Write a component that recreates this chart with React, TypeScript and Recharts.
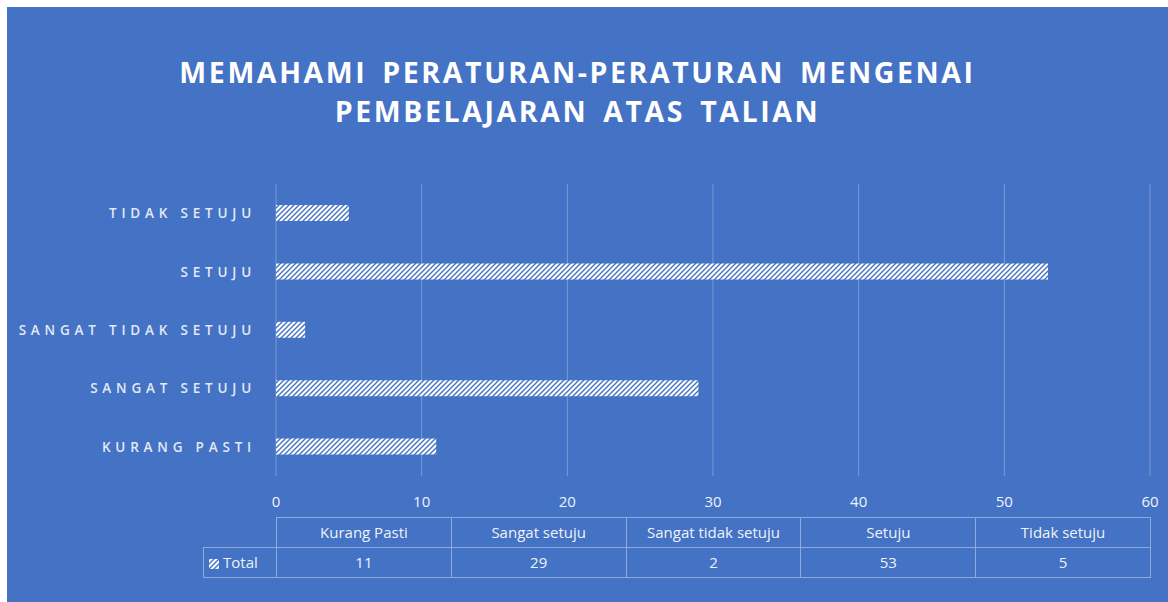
import { Bar, BarChart, CartesianGrid, XAxis, YAxis } from "recharts";

const categories = ["Kurang Pasti", "Sangat setuju", "Sangat tidak setuju", "Setuju", "Tidak setuju"];
const totals = [11, 29, 2, 53, 5];
const xTicks = [0, 10, 20, 30, 40, 50, 60];
const seriesName = "Total";

const data = categories.map((name, i) => ({ name, total: totals[i] }));

const BG = "#4472C4";
const LINE = "#8eaadb";
const FONT = "'Open Sans', sans-serif";

function CategoryTick({ x, y, payload }: any) {
	return (
		<text
			x={x}
			y={y}
			dy={5}
			textAnchor="end"
			fill="#e2e9f6"
			fontSize={13.5}
			fontWeight={600}
			fontFamily={FONT}
			letterSpacing={4.8}
		>
			{String(payload.value).toUpperCase()}
		</text>
	);
}

function Hatch({ id }: { id: string }) {
	return (
		<pattern id={id} patternUnits="userSpaceOnUse" width={5} height={5}>
			<rect width={5} height={5} fill="#ffffff" />
			<path d="M-1,1 L1,-1 M0,5 L5,0 M4,6 L6,4" stroke={BG} strokeWidth={1.4} />
		</pattern>
	);
}

function DataTable() {
	const left = 269;
	const colW = 874 / categories.length;
	const cell = {
		position: "absolute" as const,
		boxSizing: "border-box" as const,
		height: 31,
		lineHeight: "29px",
		textAlign: "center" as const,
		color: "#eef2fa",
		fontSize: 15,
		fontFamily: FONT,
		border: `1px solid ${LINE}`,
		whiteSpace: "nowrap" as const,
		overflow: "hidden"
	};
	return (
		<>
			{categories.map((c, i) => (
				<div key={c} style={{ ...cell, left: left + i * colW, top: 510, width: colW + 1 }}>
					{c}
				</div>
			))}
			<div style={{ ...cell, left: 196, top: 540, width: left - 196 + 1, textAlign: "left", paddingLeft: 5 }}>
				<svg width={10} height={10} style={{ marginRight: 4, verticalAlign: "-1px" }}>
					<rect width={10} height={10} fill="url(#legendHatch)" />
				</svg>
				{seriesName}
			</div>
			{totals.map((v, i) => (
				<div key={i} style={{ ...cell, left: left + i * colW, top: 540, width: colW + 1 }}>
					{v}
				</div>
			))}
		</>
	);
}

export default function App() {
	return (
		<div
			style={{
				position: "fixed",
				left: 7,
				top: 7,
				width: 1161,
				height: 595,
				background: BG
			}}
		>
			<svg width={0} height={0} style={{ position: "absolute" }}>
				<defs>
					<Hatch id="legendHatch" />
				</defs>
			</svg>
			<div
				style={{
					position: "absolute",
					left: 0,
					top: 46,
					width: 1141,
					textAlign: "center",
					color: "#ffffff",
					fontFamily: FONT,
					fontWeight: 700,
					fontSize: 28.5,
					letterSpacing: 2.6,
					wordSpacing: 5,
					lineHeight: "39px"
				}}
			>
				MEMAHAMI PERATURAN-PERATURAN MENGENAI
				<br />
				PEMBELAJARAN ATAS TALIAN
			</div>
			<BarChart
				width={1161}
				height={595}
				data={data}
				layout="vertical"
				margin={{ top: 177, right: 18, bottom: 96, left: 0 }}
				barCategoryGap="36%"
			>
				<defs>
					<Hatch id="hatch" />
				</defs>
				<CartesianGrid horizontal={false} stroke={LINE} strokeOpacity={0.75} />
				<XAxis
					type="number"
					domain={[0, 60]}
					ticks={xTicks}
					axisLine={false}
					tickLine={false}
					tickMargin={14}
					height={30}
					tick={{ fill: "#eef2fa", fontSize: 15, fontFamily: FONT }}
					interval={0}
				/>
				<YAxis
					type="category"
					dataKey="name"
					reversed
					width={269}
					axisLine={false}
					tickLine={false}
					tickMargin={14}
					tick={<CategoryTick />}
					interval={0}
				/>
				<Bar dataKey="total" name={seriesName} fill="url(#hatch)" barSize={16} isAnimationActive={false} />
			</BarChart>
			<DataTable />
		</div>
	);
}
